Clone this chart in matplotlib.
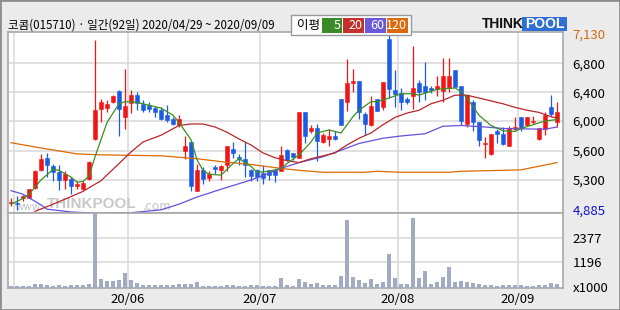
import numpy as np
import matplotlib
matplotlib.use('Agg')
import matplotlib.pyplot as plt
from matplotlib.patches import Rectangle

# daily candles, 2020/04/29 ~ 2020/09/09 (92 trading days)
opens = [4970, 4980, 5040, 5050, 5190, 5400, 5530, 5440, 5380, 5300,
         5310, 5220, 5170, 5310, 5760, 6170, 6180, 6260, 6420, 6060,
         6250, 6360, 6240, 6220, 6180, 6150, 6090, 6030, 5950, 5600,
         5720, 5150, 5400, 5320, 5430, 5400, 5460, 5630, 5540, 5520,
         5400, 5400, 5370, 5400, 5400, 5390, 5610, 5580, 5530, 6120,
         5870, 5910, 5720, 5760, 5800, 6310, 6260, 6530, 6560, 6100,
         5940, 6310, 6190, 7070, 6430, 6390, 6310, 6350, 6530, 6490,
         6460, 6440, 6420, 6460, 6710, 6490, 5960, 6270, 5990, 5690,
         5570, 5860, 5830, 5670, 5890, 6050, 5950, 5990, 5760, 5890,
         6190, 5990]
highs = [5040, 5070, 5090, 5180, 5400, 5570, 5580, 5470, 5450, 5390,
         5330, 5280, 5280, 5500, 7060, 6310, 6290, 6360, 6430, 6720,
         6430, 6410, 6290, 6270, 6210, 6200, 6220, 6050, 6080, 5800,
         5720, 5470, 5430, 5390, 5450, 5450, 5670, 5720, 5570, 5720,
         5410, 5410, 5450, 5400, 5410, 5660, 5620, 5580, 6120, 6120,
         5950, 5960, 5840, 5890, 5870, 6310, 6850, 6720, 6560, 6130,
         6350, 6310, 6540, 7130, 6710, 6460, 6340, 7000, 6570, 6820,
         6490, 6620, 6860, 6860, 6710, 6490, 6360, 6290, 5990, 5790,
         5830, 5890, 5920, 5930, 6050, 6050, 6060, 6070, 5900, 6130,
         6360, 6260]
lows = [4930, 4885, 5000, 5040, 5170, 5390, 5330, 5280, 5160, 5180,
        5110, 5170, 5160, 5300, 5750, 5990, 6120, 6250, 5800, 5890,
        6110, 6150, 6130, 6130, 6060, 6010, 5990, 5950, 5920, 5520,
        5150, 5150, 5240, 5280, 5360, 5300, 5390, 5530, 5460, 5330,
        5280, 5280, 5240, 5300, 5270, 5390, 5500, 5510, 5530, 5710,
        5840, 5500, 5700, 5660, 5750, 5950, 6140, 6400, 6030, 5810,
        5930, 6140, 6150, 6320, 6200, 6150, 6240, 6170, 6260, 6290,
        6390, 6350, 6260, 6400, 6470, 5950, 5920, 5870, 5670, 5530,
        5560, 5710, 5680, 5670, 5880, 5870, 5940, 5960, 5750, 5810,
        6070, 5920]
closes = [4990, 4960, 5070, 5170, 5390, 5520, 5460, 5380, 5300, 5360,
          5220, 5240, 5260, 5490, 6150, 6270, 6240, 6350, 6170, 6210,
          6360, 6250, 6150, 6170, 6130, 6030, 6010, 5960, 6030, 5670,
          5210, 5400, 5310, 5360, 5410, 5440, 5670, 5580, 5520, 5460,
          5340, 5330, 5320, 5350, 5350, 5560, 5510, 5540, 6120, 5800,
          5910, 5730, 5810, 5800, 5760, 5950, 6530, 6560, 6130, 5960,
          6210, 6140, 6540, 6450, 6380, 6260, 6260, 6460, 6400, 6400,
          6430, 6490, 6630, 6630, 6480, 6000, 6360, 5980, 5750, 5700,
          5830, 5820, 5690, 5910, 5920, 5910, 6050, 6000, 5900, 6090,
          6100, 6120]
# volume in thousands of shares
volumes = [48, 48, 48, 48, 160, 160, 112, 80, 112, 80,
           112, 96, 128, 160, 3560, 400, 320, 320, 352, 688,
           352, 208, 128, 128, 128, 128, 128, 128, 160, 160,
           176, 256, 64, 64, 64, 64, 96, 96, 80, 80,
           96, 96, 64, 64, 64, 448, 112, 64, 400, 256,
           144, 208, 128, 128, 128, 544, 3232, 496, 352, 224,
           400, 176, 256, 1600, 448, 176, 176, 3328, 448, 784,
           176, 256, 496, 976, 272, 304, 256, 224, 176, 96,
           128, 80, 96, 112, 112, 96, 80, 80, 96, 112,
           192, 176]

# moving averages (day index, price)
ma5_day = [0, 2, 3, 5, 7, 8, 10, 11, 12, 13, 14, 16, 18, 19, 21, 23, 25, 27, 28,
           30, 31, 32, 33, 35, 37, 38, 40, 41, 43, 45, 46, 48, 50, 51, 53, 55,
           57, 58, 60, 61, 63, 65, 67, 68, 71, 74, 75, 76, 77, 78, 80, 82, 84,
           85, 87, 89, 91]
ma5_val = [4960, 5040, 5100, 5300, 5410, 5400, 5330, 5270, 5280, 5340, 5540,
           5980, 6240, 6270, 6260, 6220, 6180, 6080, 5980, 5750, 5510, 5400,
           5360, 5350, 5470, 5520, 5440, 5380, 5390, 5420, 5470, 5560, 5720,
           5840, 5880, 5840, 6060, 6150, 6270, 6270, 6320, 6380, 6380, 6360,
           6440, 6460, 6410, 6320, 6200, 6080, 5940, 5870, 5860, 5900, 5950,
           6000, 6020]
ma20_day = [4, 6, 9, 12, 15, 18, 20, 22, 25, 28, 30, 32, 34, 36, 38, 40, 42, 44,
            46, 48, 50, 52, 54, 56, 58, 60, 62, 64, 66, 68, 70, 72, 74, 76, 78,
            80, 82, 84, 86, 88, 90, 91]
ma20_val = [4860, 4925, 5030, 5140, 5290, 5470, 5590, 5720, 5810, 5940, 5960,
            5960, 5920, 5850, 5760, 5680, 5580, 5530, 5500, 5480, 5520, 5550,
            5580, 5680, 5770, 5840, 5950, 6050, 6110, 6150, 6240, 6290, 6360,
            6360, 6320, 6280, 6240, 6190, 6150, 6120, 6060, 6040]
ma60_day = [0, 2, 5, 6, 10, 15, 20, 25, 28, 31, 35, 40, 43, 45, 48, 52, 55, 58,
            62, 65, 69, 72, 75, 79, 82, 89, 91]
ma60_val = [5150, 5100, 4950, 4890, 4850, 4830, 4840, 4880, 4960, 5060, 5170,
            5300, 5370, 5420, 5480, 5540, 5610, 5700, 5770, 5800, 5830, 5930,
            5940, 5920, 5900, 5890, 5920]
ma120_day = [0, 5, 11, 15, 25, 31, 35, 40, 45, 48, 52, 59, 61, 65, 73, 75, 82,
             85, 87, 89, 91]
ma120_val = [5710, 5640, 5570, 5560, 5550, 5520, 5490, 5460, 5420, 5400, 5380,
             5380, 5390, 5380, 5380, 5390, 5400, 5405, 5430, 5455, 5480]

price_ticks = [4885, 5300, 5600, 6000, 6400, 6800, 7130]
vol_ticks = [0, 1196, 2377]
month_pos = [0.5, 19.5, 41.5, 64.5, 84.5]
month_labels = ['', '20/06', '20/07', '20/08', '20/09']

plt.rcParams['font.family'] = ['Noto Sans CJK KR', 'DejaVu Sans']

# the price axis of the original is not evenly spaced: piecewise scale through its labels
scale_pos = np.array([-538.5, -450, -363, -273, -187, -100, -12.0])
scale_val = np.array(price_ticks, dtype=float)


def piecewise(v, xs, ys):
    v = np.asarray(v, dtype=float)
    lo = ys[0] + (v - xs[0]) * (ys[1] - ys[0]) / (xs[1] - xs[0])
    hi = ys[-1] + (v - xs[-1]) * (ys[-1] - ys[-2]) / (xs[-1] - xs[-2])
    return np.where(v < xs[0], lo, np.where(v > xs[-1], hi, np.interp(v, xs, ys)))


W, H = 620, 310
BG = '#ebebeb'
GRID = '#d9d9d9'
SPINE = '#a8a8a8'


def box(l, t, r, b):
    return [l / W, 1 - b / H, (r - l) / W, (b - t) / H]


fig = plt.figure(figsize=(6.2, 3.1), dpi=100, facecolor=BG)
ax = fig.add_axes(box(8, 32, 563, 212.7))
axv = fig.add_axes(box(8, 212.7, 563, 287.5), sharex=ax)

ax.set_yscale('function', functions=(lambda v: piecewise(v, scale_val, scale_pos),
                                     lambda p: piecewise(p, scale_pos, scale_val)))
ax.set_ylim(4840, 7152)
ax.set_xlim(-0.5, 92)

x = np.arange(len(closes))
O, Hh, L, C = map(np.array, (opens, highs, lows, closes))
cols = np.where(C >= O, '#f01616', '#1c5ce2')

for v in price_ticks[1:-1]:
    ax.axhline(v, color=GRID, lw=1.1, zorder=0)
for m in month_pos:
    ax.axvline(m, color=GRID, lw=1.1, zorder=0)
    axv.axvline(m, color=GRID, lw=1.1, zorder=0)

ax.vlines(x, L, Hh, colors=cols, lw=0.9, zorder=3)
ax.bar(x, np.abs(C - O), bottom=np.minimum(O, C), width=0.74, color=cols,
       edgecolor=cols, lw=0.4, zorder=4)

ax.plot(ma120_day, ma120_val, color='#dd6a00', lw=0.9, zorder=5)
ax.plot(ma60_day, ma60_val, color='#6650dd', lw=0.9, zorder=5)
ax.plot(ma20_day, ma20_val, color='#b8262a', lw=0.9, zorder=5)
ax.plot(ma5_day, ma5_val, color='#3c8f1e', lw=0.9, zorder=5)

ax.yaxis.tick_right()
ax.set_yticks(price_ticks)
ax.set_yticklabels([f'{v:,}' for v in price_ticks])
ax.yaxis.set_minor_locator(matplotlib.ticker.NullLocator())
ax.tick_params(axis='y', length=0, pad=7, labelsize=9.5)
ax.get_yticklabels()[0].set_color('#1010d0')
ax.get_yticklabels()[-1].set_color('#d06a10')
ax.tick_params(axis='x', bottom=False, labelbottom=False)

axv.bar(x, volumes, width=0.72, color='#a3abc2', zorder=3)
axv.set_ylim(0, 3570)
for v in vol_ticks[1:]:
    axv.axhline(v, color=GRID, lw=1.1, zorder=0)
axv.yaxis.tick_right()
axv.set_yticks(vol_ticks)
axv.set_yticklabels(['x1000', '1196', '2377'])
axv.tick_params(axis='y', length=0, pad=7, labelsize=9.5)
axv.set_xticks(month_pos)
axv.set_xticklabels(month_labels)
axv.tick_params(axis='x', length=0, pad=4, labelsize=9.5)

for a in (ax, axv):
    a.set_facecolor('white')
    for s in a.spines.values():
        s.set_color(SPINE)
        s.set_linewidth(1.2)

# watermark
ax.text(44 / W, 1 - 206.5 / H, 'www.', transform=fig.transFigure, fontsize=7.5,
        color='#c4c4c4', va='center', ha='right', zorder=1)
ax.text(92 / W, 1 - 204.5 / H, 'THINKPOOL', transform=fig.transFigure, fontsize=11,
        fontweight='bold', family='Liberation Sans', color='#c8c8c8',
        va='center', ha='center', zorder=1)
ax.text(142 / W, 1 - 206.5 / H, '.com', transform=fig.transFigure, fontsize=9,
        color='#c4c4c4', va='center', ha='left', zorder=1)

# header
fig.text(8 / W, 1 - 25.5 / H, '코콤(015710) · 일간(92일) 2020/04/29 ~ 2020/09/09',
         fontsize=8.3, va='center', ha='left', color='black')

fig.patches.append(Rectangle((291 / W, 1 - 35 / H), 120 / W, 20 / H,
                             transform=fig.transFigure, facecolor='white',
                             edgecolor='#9a9a9a', lw=1))
fig.text(297 / W, 1 - 25.5 / H, '이평', fontsize=9, va='center', ha='left')
legend_items = [('5', '#3a8a2a', 322, 342), ('20', '#c4302a', 343, 364),
                ('60', '#6a5ad8', 365, 386), ('120', '#dc6a0a', 387, 408)]
for lab, col, l, r in legend_items:
    fig.patches.append(Rectangle((l / W, 1 - 33 / H), (r - l) / W, 15 / H,
                                 transform=fig.transFigure, facecolor=col,
                                 edgecolor='none'))
    fig.text((r - 1.5) / W, 1 - 25.5 / H, lab, fontsize=9, color='white',
             va='center', ha='right')

# logo
fig.text(482 / W, 1 - 24 / H, 'THINK', fontsize=10, fontweight='bold',
         family='Liberation Sans', color='#111111', va='center', ha='left')
fig.patches.append(Rectangle((522 / W, 1 - 31 / H), 45 / W, 14 / H,
                             transform=fig.transFigure, facecolor='#2f6fd6',
                             edgecolor='none'))
fig.text(544.5 / W, 1 - 24 / H, 'POOL', fontsize=10, fontweight='bold',
         family='Liberation Sans', color='white', va='center', ha='center')

fig.patches.append(Rectangle((0, 0), 1, 1, transform=fig.transFigure, fill=False,
                             edgecolor='#8e8e8e', lw=2))

fig.savefig('out.png', dpi=100, facecolor=BG)
